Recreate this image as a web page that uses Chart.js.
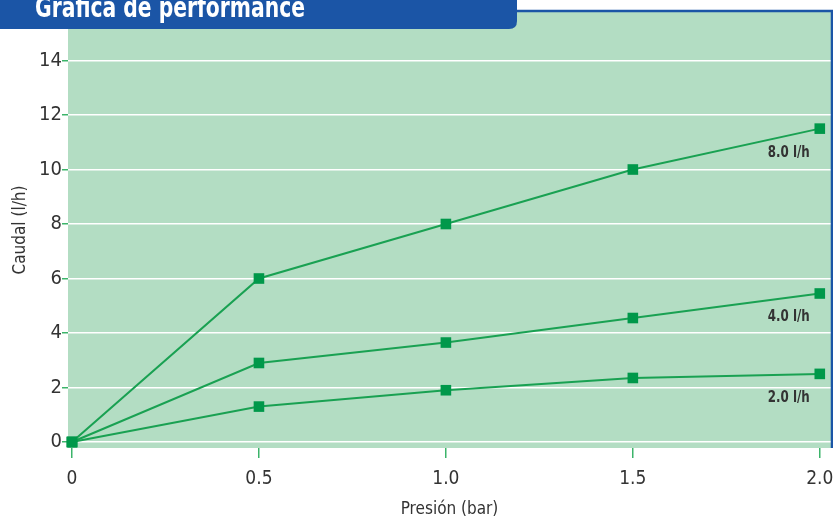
<!DOCTYPE html>
<html>
<head>
<meta charset="utf-8">
<script src="https://cdn.jsdelivr.net/npm/chart.js@4/dist/chart.umd.min.js"></script>
<style>
  html, body { margin: 0; padding: 0; background: #fff; }
  #wrap { width: 833px; height: 522px; }
</style>
</head>
<body>
<div id="wrap"><canvas id="performanceChart"></canvas></div>
<script>
// values
const presion = [0, 0.5, 1.0, 1.5, 2.0];
const caudal8 = [0, 6, 8, 10, 11.5];
const caudal4 = [0, 2.9, 3.65, 4.55, 5.45];
const caudal2 = [0, 1.3, 1.9, 2.35, 2.5];
const seriesNames = ['8.0 l/h', '4.0 l/h', '2.0 l/h'];
const xTicks = [0, 0.5, 1.0, 1.5, 2.0];
const yTicks = [0, 2, 4, 6, 8, 10, 12, 14];

const FONT = "'Liberation Sans Narrow', 'DejaVu Sans Condensed', 'Roboto Condensed', sans-serif";
const LINE_GREEN = '#19a152';
const MARK_GREEN = '#00984a';
const BLUE = '#1b55a6';

function points(values) {
  return presion.map((p, i) => ({ x: p, y: values[i] }));
}

// squeeze a text horizontally so it fits a given width (the source uses a condensed face)
function narrowText(ctx, text, x, y, width) {
  const w = ctx.measureText(text).width;
  const k = Math.min(1, width / w);
  ctx.save();
  ctx.translate(x, y);
  ctx.scale(k, 1);
  ctx.fillText(text, 0, 0);
  ctx.restore();
}

// green panel, header bar, blue border and curve labels
const decorations = {
  id: 'decorations',
  beforeDraw(chart) {
    const { ctx, chartArea: a } = chart;
    ctx.save();
    ctx.fillStyle = '#b3ddc3';
    ctx.fillRect(a.left, a.top, a.right - a.left, a.bottom - a.top);
    ctx.restore();
  },
  afterDraw(chart) {
    const { ctx, chartArea: a, scales } = chart;
    ctx.save();
    // top + right border
    ctx.strokeStyle = BLUE;
    ctx.lineWidth = 2.5;
    ctx.beginPath();
    ctx.moveTo(500, a.top - 1);
    ctx.lineTo(a.right + 1, a.top - 1);
    ctx.lineTo(a.right + 1, a.bottom);
    ctx.stroke();

    // header tab
    ctx.fillStyle = BLUE;
    ctx.beginPath();
    ctx.moveTo(0, 0);
    ctx.lineTo(517, 0);
    ctx.lineTo(517, 21);
    ctx.quadraticCurveTo(517, 29, 509, 29);
    ctx.lineTo(0, 29);
    ctx.closePath();
    ctx.fill();
    ctx.fillStyle = '#ffffff';
    ctx.font = 'bold 29px ' + FONT;
    ctx.textBaseline = 'alphabetic';
    ctx.textAlign = 'left';
    narrowText(ctx, 'Gráfica de performance', 35, 17, 270);

    // curve labels
    const ends = [caudal8, caudal4, caudal2].map(s => s[s.length - 1]);
    ctx.fillStyle = '#333333';
    ctx.font = 'bold 15px ' + FONT;
    ctx.textAlign = 'left';
    ctx.textBaseline = 'middle';
    const xl = scales.x.getPixelForValue(presion[presion.length - 1]) - 52;
    seriesNames.forEach((name, i) => {
      narrowText(ctx, name, xl, scales.y.getPixelForValue(ends[i]) + 24, 42);
    });
    ctx.restore();
  }
};

function lineSet(label, values) {
  return {
    label: label,
    data: points(values),
    borderColor: LINE_GREEN,
    borderWidth: 2,
    pointStyle: 'rect',
    pointRadius: 7.5,
    pointHoverRadius: 7.5,
    pointBackgroundColor: MARK_GREEN,
    pointBorderColor: MARK_GREEN,
    pointBorderWidth: 0,
    tension: 0,
    clip: false
  };
}

new Chart(document.getElementById('performanceChart'), {
  type: 'line',
  data: {
    datasets: [
      lineSet(seriesNames[0], caudal8),
      lineSet(seriesNames[1], caudal4),
      lineSet(seriesNames[2], caudal2)
    ]
  },
  options: {
    responsive: true,
    maintainAspectRatio: false,
    animation: false,
    layout: { autoPadding: false, padding: { top: 12, right: 2, left: 0, bottom: 0 } },
    plugins: {
      legend: { display: false },
      tooltip: { enabled: false }
    },
    scales: {
      x: {
        type: 'linear',
        min: -0.0107,
        max: 2.03,
        afterBuildTicks: s => { s.ticks = xTicks.map(v => ({ value: v })); },
        afterFit: s => { s.height = 74; s.paddingLeft = 0; s.paddingRight = 0; },
        border: { display: false },
        grid: {
          drawOnChartArea: false,
          color: '#3cb46a',
          tickColor: '#3cb46a',
          tickLength: 10,
          lineWidth: 1.5
        },
        ticks: {
          padding: 10,
          color: '#333',
          font: { family: FONT, size: 19 },
          maxRotation: 0,
          callback: v => (v === 0 ? '0' : v.toFixed(1))
        },
        title: {
          display: true,
          text: 'Presión (bar)',
          color: '#333',
          font: { family: FONT, size: 17 },
          padding: { top: 0, bottom: 2 }
        }
      },
      y: {
        min: -0.22,
        max: 15.78,
        afterBuildTicks: s => { s.ticks = yTicks.map(v => ({ value: v })); },
        afterFit: s => { s.width = 68; s.paddingTop = 0; s.paddingBottom = 0; },
        border: { display: false },
        grid: {
          color: '#ffffff',
          lineWidth: 1.5,
          tickColor: '#3cb46a',
          tickLength: 6
        },
        ticks: {
          padding: 0,
          color: '#333',
          font: { family: FONT, size: 20 }
        },
        title: {
          display: true,
          text: 'Caudal (l/h)',
          color: '#333',
          font: { family: FONT, size: 17 },
          padding: { top: 10, bottom: 0 }
        }
      }
    }
  },
  plugins: [decorations]
});
</script>
</body>
</html>
